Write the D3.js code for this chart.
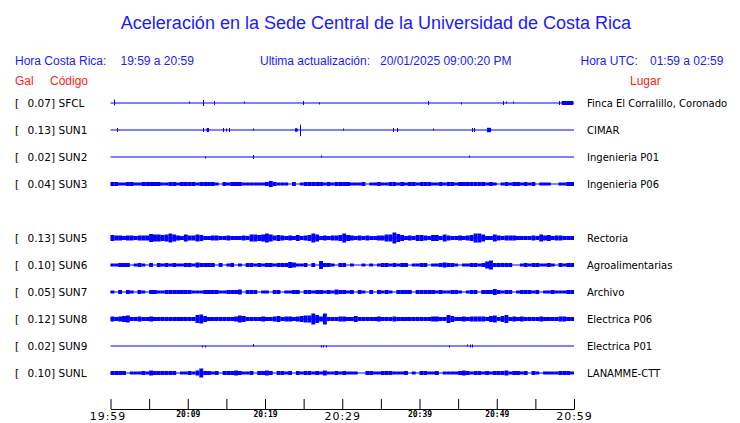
<!DOCTYPE html>
<html>
<head>
<meta charset="utf-8">
<script src="https://cdn.jsdelivr.net/npm/d3@7"></script>
<style>
  html, body { margin: 0; padding: 0; background: #fff; }
  svg { display: block; }
</style>
</head>
<body>
<svg id="chart" width="740" height="423"></svg>
<script>
// ---------------- DATA ----------------
const titleText = "Aceleración en la Sede Central de la Universidad de Costa Rica";
const horaCR = "19:59 a 20:59";
const horaUTC = "01:59 a 02:59";
const ultima = "20/01/2025 09:00:20 PM";

const codes  = ["SFCL","SUN1","SUN2","SUN3","SUN5","SUN6","SUN7","SUN8","SUN9","SUNL"];
const gal    = [0.07, 0.13, 0.02, 0.04, 0.13, 0.10, 0.05, 0.12, 0.02, 0.10];
const places = ["Finca El Corralillo, Coronado","CIMAR","Ingenieria P01","Ingenieria P06",
                "Rectoria","Agroalimentarias","Archivo","Electrica P06","Electrica P01","LANAMME-CTT"];
const slots  = [0,1,2,3,5,6,7,8,9,10];   // row index (row 4 = SUN4, no data)

// time axis (minutes after 19:59)
const tickMinutes = [0,5,10,15,20,25,30,35,40,45,50,55,60];
const tickLabels  = ["19:59","","20:09","","20:19","","20:29","","20:39","","20:49","","20:59"];
const bigTicks    = ["19:59","20:29","20:59"];

// sparse traces: spikes [minute, up, down] and blocks [start, end, amp]
const sfclSpikes = [[0.49,3,2],[10.2,1,0],[11.94,2.5,2.5],[13.44,1.5,1.5],[17.32,1,0],[24.96,1.5,1.5],
                    [27.03,0,1],[41.14,1.5,1.5],[45.41,0,1],[50.85,1.5,1.5],[51.24,1,0],[52.14,1,0],[58.06,1.5,1.5]];
const sfclBlocks = [[58.41,59.91,1.5],[0.45,0.6,1]];
const sun1Spikes = [[0.80,1.5,1.5],[12.01,1.5,1.5],[14.6,1.5,1.5],[14.99,1,1],[15.3,1.5,1.5],[18.49,1,0],
                    [24.57,5,5.7],[30.16,1,0],[36.61,1.5,1.5],[37.13,1.5,1.5],[41.79,1,0],[46.84,1.5,1.5],[47.09,1.5,1.5]];
const sun1Blocks = [[12.45,12.75,1.5],[23.88,24.23,1.2],[48.74,49.26,1.7]];
const sun2Spikes = [[12.27,0,1],[18.49,1.5,1.5],[27.29,1,0],[46.45,1,0]];
const sun9Spikes = [[11.88,0,1],[12.23,0,1],[18.41,1.5,0],[27.25,0,1],[27.55,0,1],[27.9,0,1],
                    [43.86,0,1],[46.11,1,0],[46.54,1,1],[46.84,1,1]];

// dense traces: amplitude envelope per half-minute bin (120 bins)
const sun3Env = [1.5,1.5,1,1,1.5,1.5,1,1,1.5,1.5, 1.5,1.5,1.5,1,1,1.5,1.5,1,1.5,1.5,
  1.5,1.5,1,1.5,1.5,1.5,1.5,1,0.5,1.5, 1,1.5,1.5,1.5,1,1,1,1,1,1,
  1.5,2.5,1.5,1,1,1,0.5,1.5,0.5,1, 1.5,1.5,1.5,1.5,1.5,1,1.5,1,1.5,1.5,
  1.5,1.5,1,1,1,1.5,0.5,1,1,1.5, 1,1,1.5,1.5,1,1.5,1,1.5,1.5,1,
  1.5,1.5,1.5,1,1,1.5,1,1.5,1.5,1, 1.5,1.5,1.5,1.5,1.5,1.5,1.5,1,1.5,1,
  0.5,1,1.5,1,1.5,1.5,1,1.5,1,1.5, 0.5,1,1,1,0.5,0.5,1,1,1.5,1.5];
const sun5Env = [2.5,2,2,1.5,2,2,1.5,2,2,2, 3.5,3,3,2.5,3,4,3,2,1.5,3,
  2,2,3,2.5,1.5,1.5,2,2,1.5,1.5, 2,1.5,1.5,1.5,2,1.5,3,3,2.5,3,
  4,3,2,2.5,2,1.5,2,1.5,2.5,1.5, 2,2.5,4,3,1.5,2,1.5,2,2,2.5,
  4,2.5,2,1.5,2,1.5,2,1.5,1.5,2, 2,3,3,5,3.5,2.5,1.5,2,1.5,2.5,
  2.5,2,1.5,2.5,2.5,1.5,3,2,1.5,1.5, 2,1.5,2,2.5,4,4,3,1.5,1.5,3,
  2,1.5,2,2,2,1.5,1.5,1.5,1.5,2, 1.5,3,2,2.5,1.5,2,2,1.5,1.5,1.5];
const sun6Env = [1,1,1.5,1.5,1.5,0.5,1,1.5,1,0.5, 1.5,0.5,1.5,1,1.5,1,1.5,1,1,1.5,
  1.5,1,2,1.5,1.5,1.5,1.5,0.5,1.5,0.5, 1,1.5,0.5,1,0.5,1.5,1.5,1,1.5,1,
  1.5,1.5,1,1.5,1.5,1.5,2.5,2,1,1, 1.5,0.5,1.5,0.5,3.5,1.5,1.5,1,0.5,1.5,
  1.5,0.5,1,0.5,0.5,1,0.5,1,0.5,1, 1.5,1.5,1,1.5,1,1.5,1.5,0.5,1,1,
  1.5,1.5,0.5,1,1,1.5,2,1.5,1.5,1, 0.5,1,1,1.5,1.5,1,1.5,3,4,1.5,
  1.5,1.5,1.5,1.5,0.5,0.5,1,1.5,1,1.5, 1.5,1,1,1.5,1,0.5,1.5,1,1.5,1.5];
const sun7Env = [1,0.5,1.5,0.5,1.5,1,0.5,1.5,1,0.5, 1.5,1.5,1,1,1.5,1.5,1.5,1.5,1.5,1.5,
  1.5,1,1,1,1.5,1.5,1.5,1.5,1,1, 1.5,1.5,1.5,2,0.5,1.5,1.5,1.5,0.5,1,
  1,0.5,1.5,1.5,0.5,1,1,1.5,1.5,0.5, 1.5,1.5,1,1.5,1.5,1,1.5,1,2,1.5,
  1.5,1,1.5,0.5,1.5,1,0.5,1.5,0.5,1.5, 1,1.5,1,0.5,1.5,1.5,1.5,1.5,0.5,1.5,
  1.5,1.5,1.5,1.5,1,1.5,1,1,1.5,1.5, 1,0.5,1,1.5,1.5,0.5,1.5,1.5,1.5,2.5,
  1.5,1,1.5,1.5,0.5,1,1.5,1.5,1.5,1, 1.5,0.5,1,1,1.5,1,1,1,1.5,1.5];
const sun8Env = [2,1.5,2,2.5,3,1.5,1.5,2,1.5,1.5, 2,1.5,1.5,1.5,1.5,1.5,1.5,1.5,1.5,1.5,
  1.5,1.5,3.5,4,2.5,1.5,1.5,1.5,1.5,1.5, 1.5,1.5,2,3,2.5,1.5,1.5,1.5,1.5,2,
  1.5,1.5,2,2.5,1.5,2,2,1.5,2,2.5, 3,3,5,3.5,2,5,1.5,1.5,1.5,2,
  2,1.5,1.5,2.5,1.5,1.5,1.5,1.5,1.5,2, 1.5,1.5,1.5,2,1.5,1.5,1.5,1.5,1.5,1.5,
  1.5,1.5,1.5,2,2,1.5,1.5,3.5,2.5,1.5, 1.5,2,1.5,2,2,2,2,1.5,2.5,3,
  1.5,2.5,3.5,1.5,2,1.5,2,1.5,1.5,1.5, 1.5,2,1.5,1.5,1.5,1.5,2,2,1.5,1.5];
const sunlEnv = [1.5,1.5,1.5,1.5,0.5,1,1,1,1.5,1, 2,1.5,1.5,1.5,1.5,1.5,1.5,0.5,1,1,
  1.5,1,2,4,1.5,1.5,1,1.5,0.5,1.5, 1.5,1.5,2,1.5,1,1,1.5,0.5,1.5,1.5,
  2,1.5,0.5,1.5,1.5,1,1.5,0.5,1.5,1, 1.5,1.5,1,1.5,1,2,1,1,1.5,1,
  1.5,1,1,1,0.5,0.5,1.5,1.5,1,1, 1.5,1.5,1.5,1,1,1,1.5,0.5,1,0.5,
  1.5,1.5,1,1,1.5,0.5,1,1,1,1, 1.5,2,1.5,1,1.5,1.5,1,1.5,1,1.5,
  1.5,1.5,2,1,1.5,1.5,1,1.5,0.5,1.5, 1,0.5,1,1,1,1,1.5,1.5,1.5,1];

const traces = {
  SFCL: {spikes: sfclSpikes, blocks: sfclBlocks},
  SUN1: {spikes: sun1Spikes, blocks: sun1Blocks},
  SUN2: {spikes: sun2Spikes},
  SUN3: {env: sun3Env},
  SUN5: {env: sun5Env},
  SUN6: {env: sun6Env},
  SUN7: {env: sun7Env},
  SUN8: {env: sun8Env},
  SUN9: {spikes: sun9Spikes},
  SUNL: {env: sunlEnv}
};
const binMinutes = 0.5;

// ---------------- DRAW ----------------
const svg = d3.select("#chart");
const BLUE = "#0000ff", TXTBLUE = "#1a1aff", RED = "#ff2020";
const sans = "'Liberation Sans', Arial, Helvetica, sans-serif";
const dvs  = "'DejaVu Sans', Verdana, sans-serif";
const mono = "'DejaVu Sans Mono', monospace";

const x = d3.scaleLinear().domain([0, 60]).range([110.5, 574]);
const y = d3.scalePoint().domain(d3.range(11)).range([103, 373]);
const amp = d3.scaleLinear().domain([0, 1]).range([0, 1]);

// title
svg.append("text").attr("x", 376).attr("y", 29).attr("text-anchor", "middle")
  .attr("font-family", sans).attr("font-size", 18).attr("fill", TXTBLUE).text(titleText);

// header
const hdr = svg.append("g").attr("font-family", sans).attr("font-size", 12).attr("fill", TXTBLUE);
[["Hora Costa Rica:", 15],[horaCR, 120.5],["Ultima actualización:", 260],[ultima, 380],
 ["Hora UTC:", 580.5],[horaUTC, 650]].forEach(([t, px]) =>
  hdr.append("text").attr("x", px).attr("y", 65).text(t));
const red = svg.append("g").attr("font-family", sans).attr("font-size", 12).attr("fill", RED);
[["Gal", 15],["Código", 50],["Lugar", 630]].forEach(([t, px]) =>
  red.append("text").attr("x", px).attr("y", 85).text(t));

// rows
codes.forEach((code, i) => {
  const cy = Math.round(y(slots[i]));
  const g = svg.append("g");
  const lab = g.append("g").attr("font-family", dvs).attr("font-size", 10.5).attr("fill", "#000");
  lab.append("text").attr("x", 15).attr("y", cy + 4).text("[");
  lab.append("text").attr("x", 27.5).attr("y", cy + 4).text(gal[i].toFixed(2) + "]");
  lab.append("text").attr("x", 58.5).attr("y", cy + 4).text(code);
  g.append("text").attr("x", 587).attr("y", cy + 4).attr("font-family", dvs)
    .attr("font-size", 10).attr("fill", "#000").text(places[i]);

  const tr = traces[code];
  const w = g.append("g").attr("fill", BLUE);
  // baseline
  w.append("rect").attr("x", x(0)).attr("y", cy - 0.5)
    .attr("width", x(60) - x(0)).attr("height", 1);
  if (tr.env) {
    w.selectAll(null).data(tr.env.map((a, k) => ({a, k})).filter(d => d.a > 0.5))
      .join("rect")
      .attr("x", d => x(d.k * binMinutes))
      .attr("width", d => x((d.k + 1) * binMinutes) - x(d.k * binMinutes))
      .attr("y", d => cy - amp(d.a) - 0.5)
      .attr("height", d => 2 * amp(d.a) + 1);
  }
  if (tr.blocks) {
    w.selectAll(null).data(tr.blocks).join("rect")
      .attr("x", d => x(d[0])).attr("width", d => Math.max(1, x(d[1]) - x(d[0])))
      .attr("y", d => cy - amp(d[2]) - 0.5).attr("height", d => 2 * amp(d[2]) + 1);
  }
  if (tr.spikes) {
    w.selectAll(null).data(tr.spikes).join("rect")
      .attr("x", d => Math.round(x(d[0]))).attr("width", 1)
      .attr("y", d => cy - amp(d[1]) - 0.5).attr("height", d => amp(d[1]) + amp(d[2]) + 1);
  }
});

// time axis
const axis = d3.axisBottom(x).tickValues(tickMinutes).tickSize(-10).tickSizeOuter(0)
  .tickFormat((d, i) => tickLabels[i]);
const ax = svg.append("g").attr("transform", "translate(0,409)").call(axis);
ax.select(".domain").attr("stroke", "#000");
ax.selectAll(".tick line").attr("stroke", "#000");
ax.selectAll(".tick text").attr("fill", "#000").attr("dy", 0)
  .each(function(d, i) {
    const big = bigTicks.includes(tickLabels[i]);
    d3.select(this)
      .attr("y", big ? 11 : 8)
      .attr("font-family", big ? dvs : mono)
      .attr("font-size", big ? 11 : 8)
      .attr("font-weight", big ? "normal" : "bold")
      .attr("letter-spacing", big ? 1 : 0)
      .attr("dx", i === 0 ? -3 : 0);
  });
</script>
</body>
</html>
